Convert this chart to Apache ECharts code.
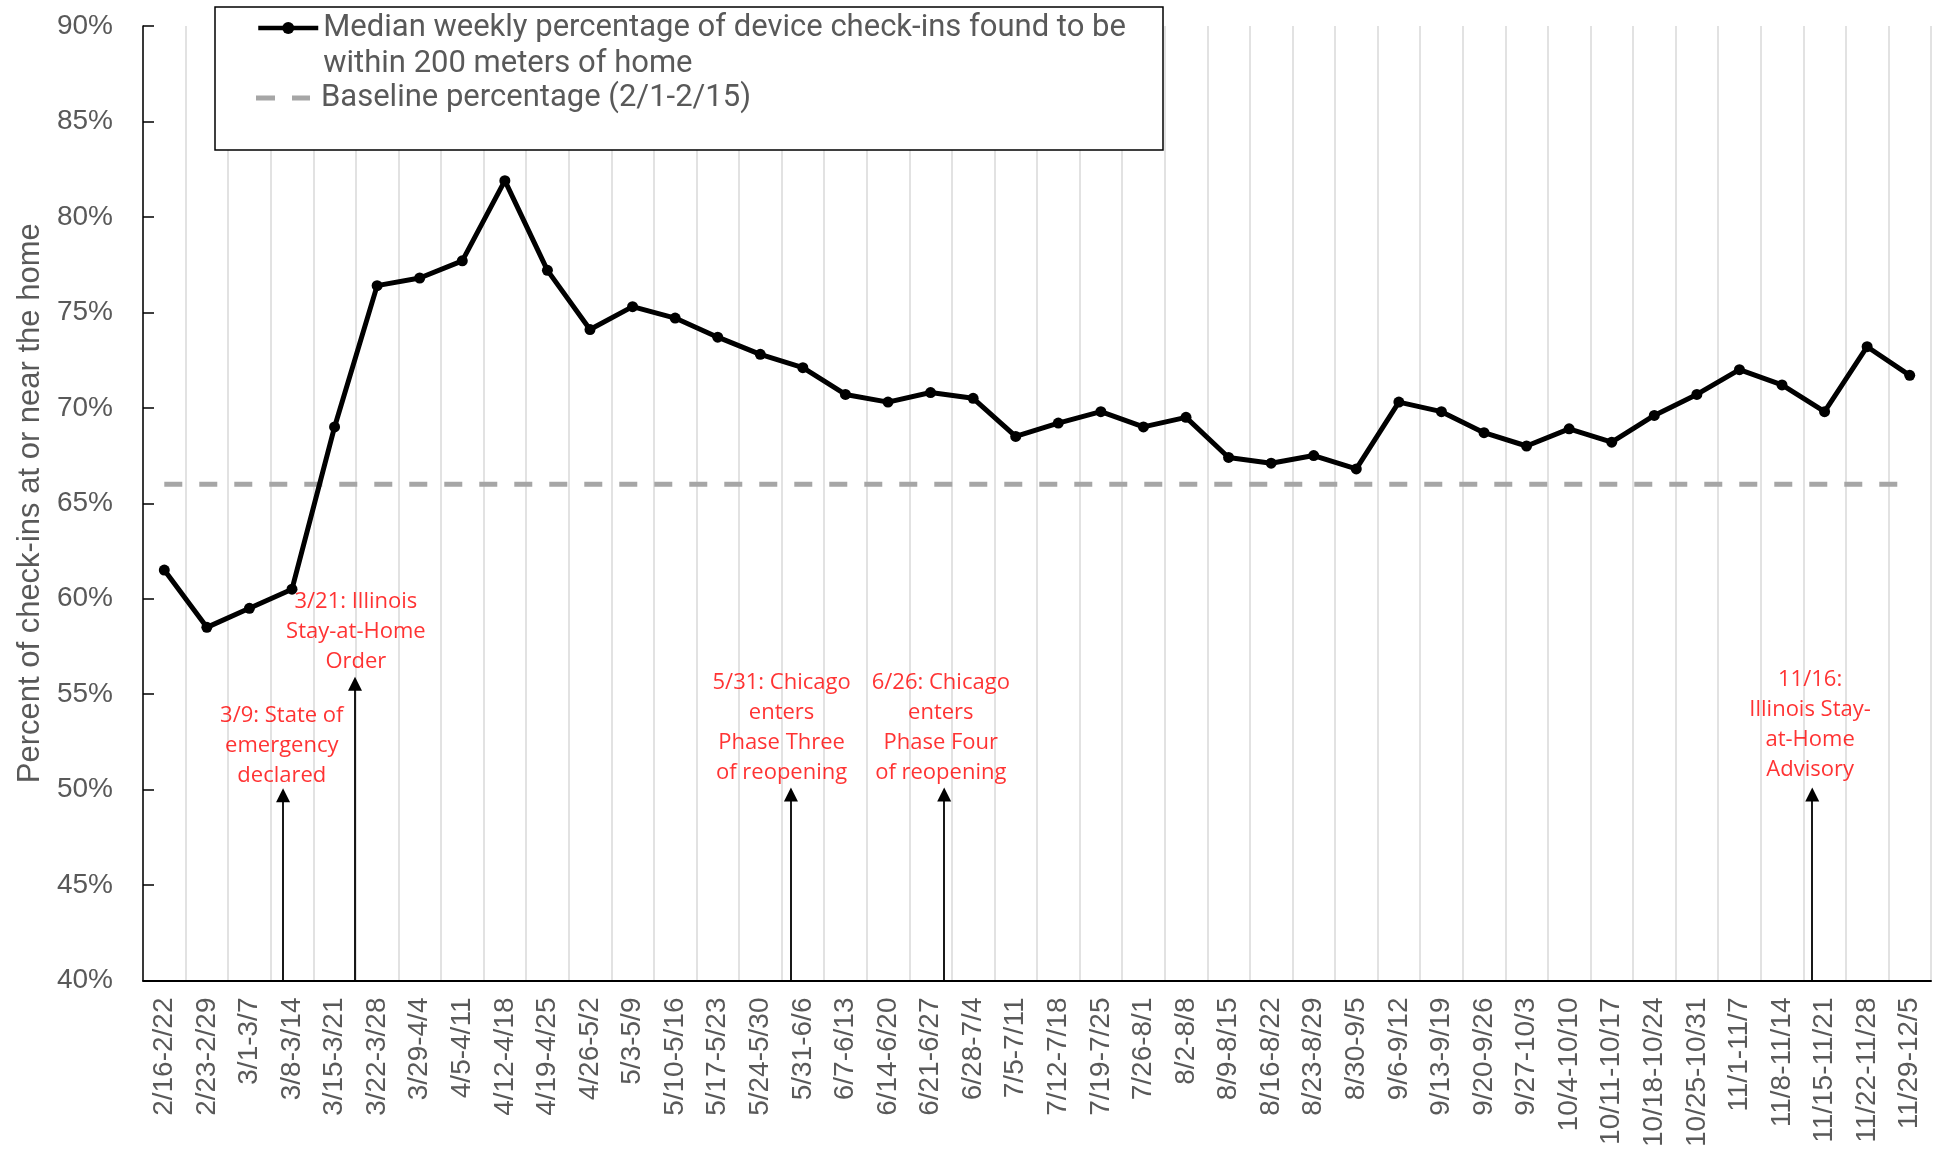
<!DOCTYPE html>
<html lang="en">
<head>
<meta charset="UTF-8">
<title>Check-ins near home</title>
<script src="https://cdn.jsdelivr.net/npm/echarts@6/dist/echarts.min.js"></script>
<style>
  html, body { margin: 0; padding: 0; background: #fff; }
  #main { width: 1936px; height: 1150px; }
</style>
</head>
<body>
<div id="main"></div>
<script>
// weekly categories
var weeks = ['2/16-2/22', '2/23-2/29', '3/1-3/7', '3/8-3/14', '3/15-3/21', '3/22-3/28', '3/29-4/4',
  '4/5-4/11', '4/12-4/18', '4/19-4/25', '4/26-5/2', '5/3-5/9', '5/10-5/16', '5/17-5/23', '5/24-5/30',
  '5/31-6/6', '6/7-6/13', '6/14-6/20', '6/21-6/27', '6/28-7/4', '7/5-7/11', '7/12-7/18', '7/19-7/25',
  '7/26-8/1', '8/2-8/8', '8/9-8/15', '8/16-8/22', '8/23-8/29', '8/30-9/5', '9/6-9/12', '9/13-9/19',
  '9/20-9/26', '9/27-10/3', '10/4-10/10', '10/11-10/17', '10/18-10/24', '10/25-10/31', '11/1-11/7',
  '11/8-11/14', '11/15-11/21', '11/22-11/28', '11/29-12/5'];

// median weekly % of check-ins within 200 m of home
var medianPct = [61.5, 58.5, 59.5, 60.5, 69.0, 76.4, 76.8, 77.7, 81.9, 77.2, 74.1, 75.3, 74.7, 73.7,
  72.8, 72.1, 70.7, 70.3, 70.8, 70.5, 68.5, 69.2, 69.8, 69.0, 69.5, 67.4, 67.1, 67.5, 66.8, 70.3,
  69.8, 68.7, 68.0, 68.9, 68.2, 69.6, 70.7, 72.0, 71.2, 69.8, 73.2, 71.7];

var baselinePct = 66.0;

// events: position in weeks from 2/16, arrow tip value, note text
var eventWeek = [3.29, 4.98, 15.22, 18.82, 39.21];
var eventTip = [49.7, 55.55, 49.75, 49.75, 49.75];
var eventText = [
  '3/9: State of\nemergency\ndeclared',
  '3/21: Illinois\nStay-at-Home\nOrder',
  '5/31: Chicago\nenters\nPhase Three\nof reopening',
  '6/26: Chicago\nenters\nPhase Four\nof reopening',
  '11/16:\nIllinois Stay-\nat-Home\nAdvisory'
];
var noteWeek = [3.26, 5.0, 15.0, 18.74, 39.16];
var noteValue = [52.28, 58.27, 53.25, 53.25, 53.38];

var mainName = 'Median weekly percentage of device check-ins found to be\nwithin 200 meters of home';
var baseName = 'Baseline percentage (2/1-2/15)';
var gray = '#595959';

var myChart = echarts.init(document.getElementById('main'));

var notes = noteWeek.map(function (w, i) {
  return { value: [w, noteValue[i]], name: eventText[i] };
});
var arrows = eventWeek.map(function (w, i) {
  return [{ coord: [w, 40] }, { coord: [w, eventTip[i]] }];
});

var legendText = { color: gray, fontFamily: 'Roboto', fontSize: 31, lineHeight: 36 };

var option = {
  animation: false,
  backgroundColor: '#fff',
  grid: { left: 143, right: 5, top: 26, bottom: 168 },
  legend: [
    {
      data: [mainName],
      orient: 'vertical',
      left: 256,
      top: -26,
      padding: 0,
      itemWidth: 60,
      itemHeight: 15,
      // blank first line keeps the icon level with the first text line
      formatter: function (name) { return ' \n' + name; },
      lineStyle: { width: 4.5 },
      textStyle: legendText
    },
    {
      data: [baseName],
      orient: 'vertical',
      left: 256,
      top: 80,
      padding: 0,
      itemWidth: 60,
      itemHeight: 5,
      icon: 'path://M0,0H19V5H0Z M36,0H54V5H36Z M60,0L60,5',
      itemStyle: { borderWidth: 0 },
      textStyle: legendText
    }
  ],
  graphic: [
    {
      type: 'rect',
      z: 3,
      shape: { x: 215, y: 7, width: 948, height: 143 },
      style: { fill: '#fff', stroke: '#000', lineWidth: 1.5 }
    }
  ],
  xAxis: [
    {
      type: 'category',
      data: weeks,
      boundaryGap: true,
      axisLine: { lineStyle: { color: '#000', width: 2 } },
      axisTick: { inside: true, length: 9, interval: 0, lineStyle: { color: '#000', width: 1.5 } },
      axisLabel: {
        interval: 0, rotate: 90, margin: 17,
        color: gray, fontFamily: 'Liberation Sans', fontSize: 28
      },
      splitLine: { show: true, interval: 0, lineStyle: { color: '#d9d9d9', width: 1.5 } }
    },
    {
      type: 'value',
      min: 0,
      max: weeks.length,
      show: false
    }
  ],
  yAxis: {
    type: 'value',
    min: 40,
    max: 90,
    interval: 5,
    name: 'Percent of check-ins at or near the home',
    nameLocation: 'middle',
    nameGap: 94,
    nameTextStyle: { color: gray, fontFamily: 'Liberation Sans', fontSize: 31 },
    axisLine: { show: true, lineStyle: { color: '#000', width: 1.5 } },
    axisTick: { show: true, inside: true, length: 11, lineStyle: { color: '#000', width: 1.5 } },
    axisLabel: {
      margin: 30, color: gray, fontFamily: 'Liberation Sans', fontSize: 28,
      formatter: '{value}%'
    },
    splitLine: { show: false }
  },
  series: [
    {
      name: baseName,
      type: 'line',
      data: weeks.map(function () { return baselinePct; }),
      symbol: 'none',
      itemStyle: { color: '#a6a6a6' },
      lineStyle: { color: '#a6a6a6', width: 5, type: [18, 17] },
      z: 2
    },
    {
      name: mainName,
      type: 'line',
      data: medianPct,
      symbol: 'circle',
      symbolSize: 11,
      itemStyle: { color: '#000' },
      lineStyle: { color: '#000', width: 5 },
      z: 3
    },
    {
      name: 'events',
      type: 'scatter',
      xAxisIndex: 1,
      data: notes,
      symbolSize: 0,
      silent: true,
      label: {
        show: true,
        position: 'inside',
        formatter: '{b}',
        color: '#ff0000',
        fontFamily: 'Open Sans',
        fontSize: 22,
        lineHeight: 30,
        align: 'center'
      },
      markLine: {
        silent: true,
        symbol: ['none', 'triangle'],
        symbolSize: [14, 14],
        label: { show: false },
        lineStyle: { color: '#000', width: 1.8, type: 'solid' },
        data: arrows
      }
    }
  ]
};

myChart.setOption(option);
</script>
</body>
</html>
